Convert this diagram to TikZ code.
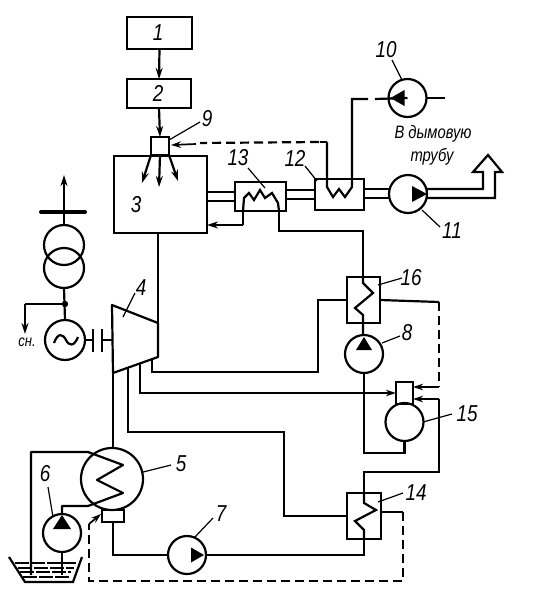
\documentclass[tikz,border=0pt]{standalone}
\usepackage{fontspec}
\setmainfont{Liberation Sans}
\newfontfamily\slimfont[FakeStretch=0.82]{Liberation Sans}
\usetikzlibrary{arrows.meta}
\tikzset{
  x=1pt,y=-1pt,
  pipe/.style={line width=2.2pt,line join=miter},
  flow/.style={pipe,-{Stealth[length=11pt,width=7pt]}},
  thin arrow/.style={line width=1.7pt,-{Stealth[length=10pt,width=6.5pt]}},
  ctrl/.style={line width=2.2pt,dash pattern=on 9pt off 5pt},
  leader/.style={line width=1.2pt},
  unit/.style={draw,line width=2.2pt,inner sep=0pt,outer sep=0pt,rectangle},
  pump/.style={draw,line width=2.2pt,circle,inner sep=0pt,outer sep=0pt,minimum size=38pt},
  tag/.style={inner sep=0pt,font=\slimfont\itshape\fontsize{23}{23}\selectfont},
  note/.style={inner sep=0pt,font=\slimfont\itshape\fontsize{18}{18}\selectfont},
}
\begin{document}
\begin{tikzpicture}
\useasboundingbox (0,0) rectangle (558,611);
% control boxes
\node[unit,minimum width=65pt,minimum height=32pt] (b1) at (159.5,33) {};
\node[unit,minimum width=64pt,minimum height=29pt] (b2) at (159,93.5) {};
\node[unit,minimum width=18pt,minimum height=18pt] (b9) at (160,146) {};
\node[unit,minimum width=93pt,minimum height=77pt] (b3) at (160.5,194.5) {};
\node[unit,minimum width=51pt,minimum height=29pt] (b13) at (260.5,196.5) {};
\node[unit,minimum width=49pt,minimum height=31pt] (b12) at (339.5,194.5) {};
\node[unit,minimum width=33pt,minimum height=46pt] (b16) at (363.5,300) {};
\node[unit,minimum width=34pt,minimum height=46pt] (b14) at (364,516) {};
\node[unit,minimum width=17pt,minimum height=22pt] (b15) at (404.5,393) {};
\node[unit,minimum width=22pt,minimum height=12pt] (hot) at (113,516) {};
% rotating machines
\node[pump] (p10) at (407.5,98) {};
\node[pump] (p11) at (408,194) {};
\node[pump] (p8) at (364,354) {};
\node[pump] (d15) at (404.5,422) {};
\node[pump] (p7) at (187,555) {};
\node[pump] (p6) at (62,533) {};
\node[pump,minimum size=62pt] (c5) at (112,479) {};
\node[pump,minimum size=40pt] (gen) at (65,340) {};
\node[pump,minimum size=40pt] (t1) at (64,245) {};
\node[pump,minimum size=40pt] (t2) at (64,268) {};
% pump triangles
\fill (p10.center)++(-17,0) -- ++(14,-8) -- ++(0,16) -- cycle;
\fill (p11.center)++(4,-8) -- ++(0,16) -- ++(15,-8) -- cycle;
\fill (p8.center)++(-8,-4) -- ++(16,0) -- ++(-8,-13) -- cycle;
\fill (p7.center)++(4,-7.5) -- ++(0,15) -- ++(13,-7.5) -- cycle;
\fill (p6.center)++(-9,-4) -- ++(18,0) -- ++(-9,-14) -- cycle;
% control chain
\draw[flow] (b1.south) -- (b2.north);
\draw[flow] (b2.south) -- (b9.north);
\coordinate (bl) at (142,183); \coordinate (bm) at (159,187); \coordinate (br) at (178,181);
\draw[flow] (b9.south west) -- (bl);
\draw[flow] (b9.south) -- (bm);
\draw[flow] (b9.south east) -- (br);
% flue gas path
\coordinate (f1) at (221,192); \coordinate (f2) at (221,201);
\draw[pipe] (f1 -| b3.east) -- (f1 -| b13.west);
\draw[pipe] (f2 -| b3.east) -- (f2 -| b13.west);
\coordinate (g1) at (300,190); \coordinate (g2) at (300,199);
\draw[pipe] (g1 -| b13.east) -- (g1 -| b12.west);
\draw[pipe] (g2 -| b13.east) -- (g2 -| b12.west);
\coordinate (h1) at (377,189); \coordinate (h2) at (377,198);
\draw[pipe] (h1 -| b12.east) -- (h1 -| p11.west);
\draw[pipe] (h2 -| b12.east) -- (h2 -| p11.west);
\draw[pipe] (426,189) -- (483,189) -- (483,172) -- (473,172) -- (488,155) -- (502,172) -- (495,172) -- (495,198) -- (426,198);
% economiser coil 13
\coordinate (c13a) at (243,211); \coordinate (c13b) at (279,211);
\draw[pipe] (c13a) -- (244,198) -- (249,193) -- (254,200) -- (260,190) -- (265,198) -- (272,193) -- (278,203) -- (c13b);
\coordinate (ret) at (243,225);
\draw[pipe] (c13a) -- (ret);
\draw[flow] (ret) -- (ret -| b3.east);
\coordinate (c16t) at (363,231);
\draw[pipe] (c13b) |- (c16t) -- (b16.north -| c16t);
% heater 16 coil and feed pump 8
\draw[pipe] (b16.north -| c16t) -- (363,283) -- (373,293) -- (355,308) -- (363,315) -- (p8.north -| c16t);
\coordinate (m1) at (364,453);
\draw[pipe] (p8.south) -- (m1) -| (d15.south);
\draw[pipe] (b15.south) -- (d15.north);
% air heater 12 coil and fan 10
\coordinate (c12l) at (327,142); \coordinate (c12r) at (352,99);
\draw[pipe] (c12l) -- (327,187) -- (333,197) -- (339,189) -- (345,197) -- (352,187) -- (c12r) -- (368,99);
\coordinate (fan) at (375,99);
\draw[pipe] (fan) -- (p10.center);
\coordinate (fanr) at (445,98);
\draw[pipe] (p10.east) -- (fanr);
% control dashed to burner
\coordinate (d9) at (171,145);
\draw[ctrl] (c12l) ++(-8,0) -- (200,143);
\draw[pipe] (c12l) -- ++(-7,0);
\draw[thin arrow] (196,144) -- (d9);
% steam line and turbine
\coordinate (ta) at (112,305); \coordinate (tb) at (158,323); \coordinate (tc) at (158,357); \coordinate (td) at (113,373);
\draw[pipe,line join=round] (ta) -- (tb) -- (tc) -- (td) -- cycle;
\draw[pipe] (b3.south -| tb) -- (tb);
% extractions
\coordinate (e1) at (152,358); \coordinate (e1b) at (318,372);
\draw[pipe] (e1) |- (e1b) |- (b16.west);
\coordinate (e2) at (140,363); \coordinate (e2b) at (140,393);
\draw[pipe] (e2) -- (e2b) -- (345,393);
\draw[thin arrow] (345,393) -- (b15.west);
\coordinate (e3) at (128,368); \coordinate (e3b) at (284,432);
\draw[pipe] (e3) |- (e3b) |- (b14.west);
\draw[pipe] (td) -- (c5.north -| td);
% heater 16 to deaerator
\coordinate (k1) at (439,302); \coordinate (k2) at (439,387);
\draw[pipe] (b16.east) -- (k1);
\draw[ctrl] (k1) -- (k2);
\draw[thin arrow] (k2) -- (k2 -| b15.east);
\coordinate (k3) at (439,399); \coordinate (k4) at (439,472);
\draw[thin arrow] (k3) -- (k3 -| b15.east);
\draw[pipe] (k3) -- (k4) -- (364,472) -- (b14.north);
% heater 14 coil
\draw[pipe] (b14.north) -- (364,503) -- (376,510) -- (355,521) -- (364,530) -- (b14.south);
\coordinate (k5) at (364,555);
\draw[pipe] (b14.south) -- (k5) -- (p7.east);
\draw[pipe] (hot.south) |- (p7.west);
\coordinate (k6) at (403,512); \coordinate (k7) at (403,581); \coordinate (k8) at (89,581); \coordinate (k9) at (89,524); \coordinate (k10) at (101,514);
\draw[pipe] (b14.east |- k6) -- (k6);
\draw[ctrl] (k6) -- (k7) -- (k8) -- (k9);
\draw[thin arrow] (k9) -- (k10);
% condenser and cooling water
\coordinate (w0) at (31,452); \coordinate (w1) at (31,575); \coordinate (w2) at (62,506); \coordinate (w3) at (62,575);
\draw[pipe,line join=round] (w1) -- (w0) -- (88,452) -- (123,465) -- (97,480) -- (123,493) -- (88,506) -- (w2) -- (p6.north);
\draw[pipe] (p6.south) -- (w3);
% tank
\draw[pipe] (9,557) -- (25,582) -- (73,582) -- (82,557);
\foreach \yy/\a/\b in {563/15/76, 568/18/74, 572/20/71, 577/23/69}{
  \draw[line width=1.2pt,dash pattern=on 14pt off 2pt] (\a,\yy) -- (\b,\yy);
}
% generator, transformer, bus
\coordinate (bus) at (64,212); \coordinate (up) at (64,175);
\draw[line width=4pt,line cap=round] (41,212) -- (85,212);
\draw[flow] (bus) -- (up);
\draw[pipe] (bus) -- (t1.north);
\draw[pipe] (t2.south) -- (gen.north);
\coordinate (dot) at (65,304); \coordinate (aux) at (25,304); \coordinate (auxb) at (25,334);
\fill (dot) circle (3.2pt);
\draw[pipe] (dot) -- (aux);
\draw[flow] (aux) -- (auxb);
\draw[line width=2.2pt] (54,343) .. controls (58,332) and (63,334) .. (66,340) .. controls (69,346) and (74,347) .. (78,337);
\coordinate (s1) at (93,340); \coordinate (s2) at (102,340);
\draw[pipe] (gen.east) -- (s1);
\draw[pipe] (93,329) -- (93,352);
\draw[pipe] (102,329) -- (102,352);
\draw[pipe] (s2) -- (112.5,340);
% leaders
\draw[leader] (169,140) -- (200,122);
\draw[leader] (392,60) -- (402,80);
\draw[leader] (422,210) -- (440,227);
\draw[leader] (248,168) -- (265,188);
\draw[leader] (305,166) -- (317,181);
\draw[leader] (123,317) -- (135,293);
\draw[leader] (378,285) -- (402,278);
\draw[leader] (382,343) -- (400,336);
\draw[leader] (423,422) -- (452,414);
\draw[leader] (378,502) -- (403,493);
\draw[leader] (143,472) -- (171,465);
\draw[leader] (48,487) -- (53,517);
\draw[leader] (195,537) -- (213,518);
% labels
\node[tag] (l1) at (158,33) {1};
\node[tag] (l2) at (158,93) {2};
\node[tag] (l3) at (136,205) {3};
\node[tag] (l4) at (141,288) {4};
\node[tag] (l5) at (181,464) {5};
\node[tag] (l6) at (45,474) {6};
\node[tag] (l7) at (221,514) {7};
\node[tag] (l8) at (407,333) {8};
\node[tag] (l9) at (207,119) {9};
\node[tag] (l10) at (386,50) {10};
\node[tag] (l11) at (452,231) {11};
\node[tag] (l12) at (295,158) {12};
\node[tag] (l13) at (238,158) {13};
\node[tag] (l14) at (416,493) {14};
\node[tag] (l15) at (467,414) {15};
\node[tag] (l16) at (411,278) {16};
\node[note] (n1) at (433,134) {В дымовую};
\node[note] (n2) at (432,157) {трубу};
\node[note,font=\slimfont\itshape\fontsize{16}{16}\selectfont] (n3) at (27,342) {сн.};
\end{tikzpicture}
\end{document}
